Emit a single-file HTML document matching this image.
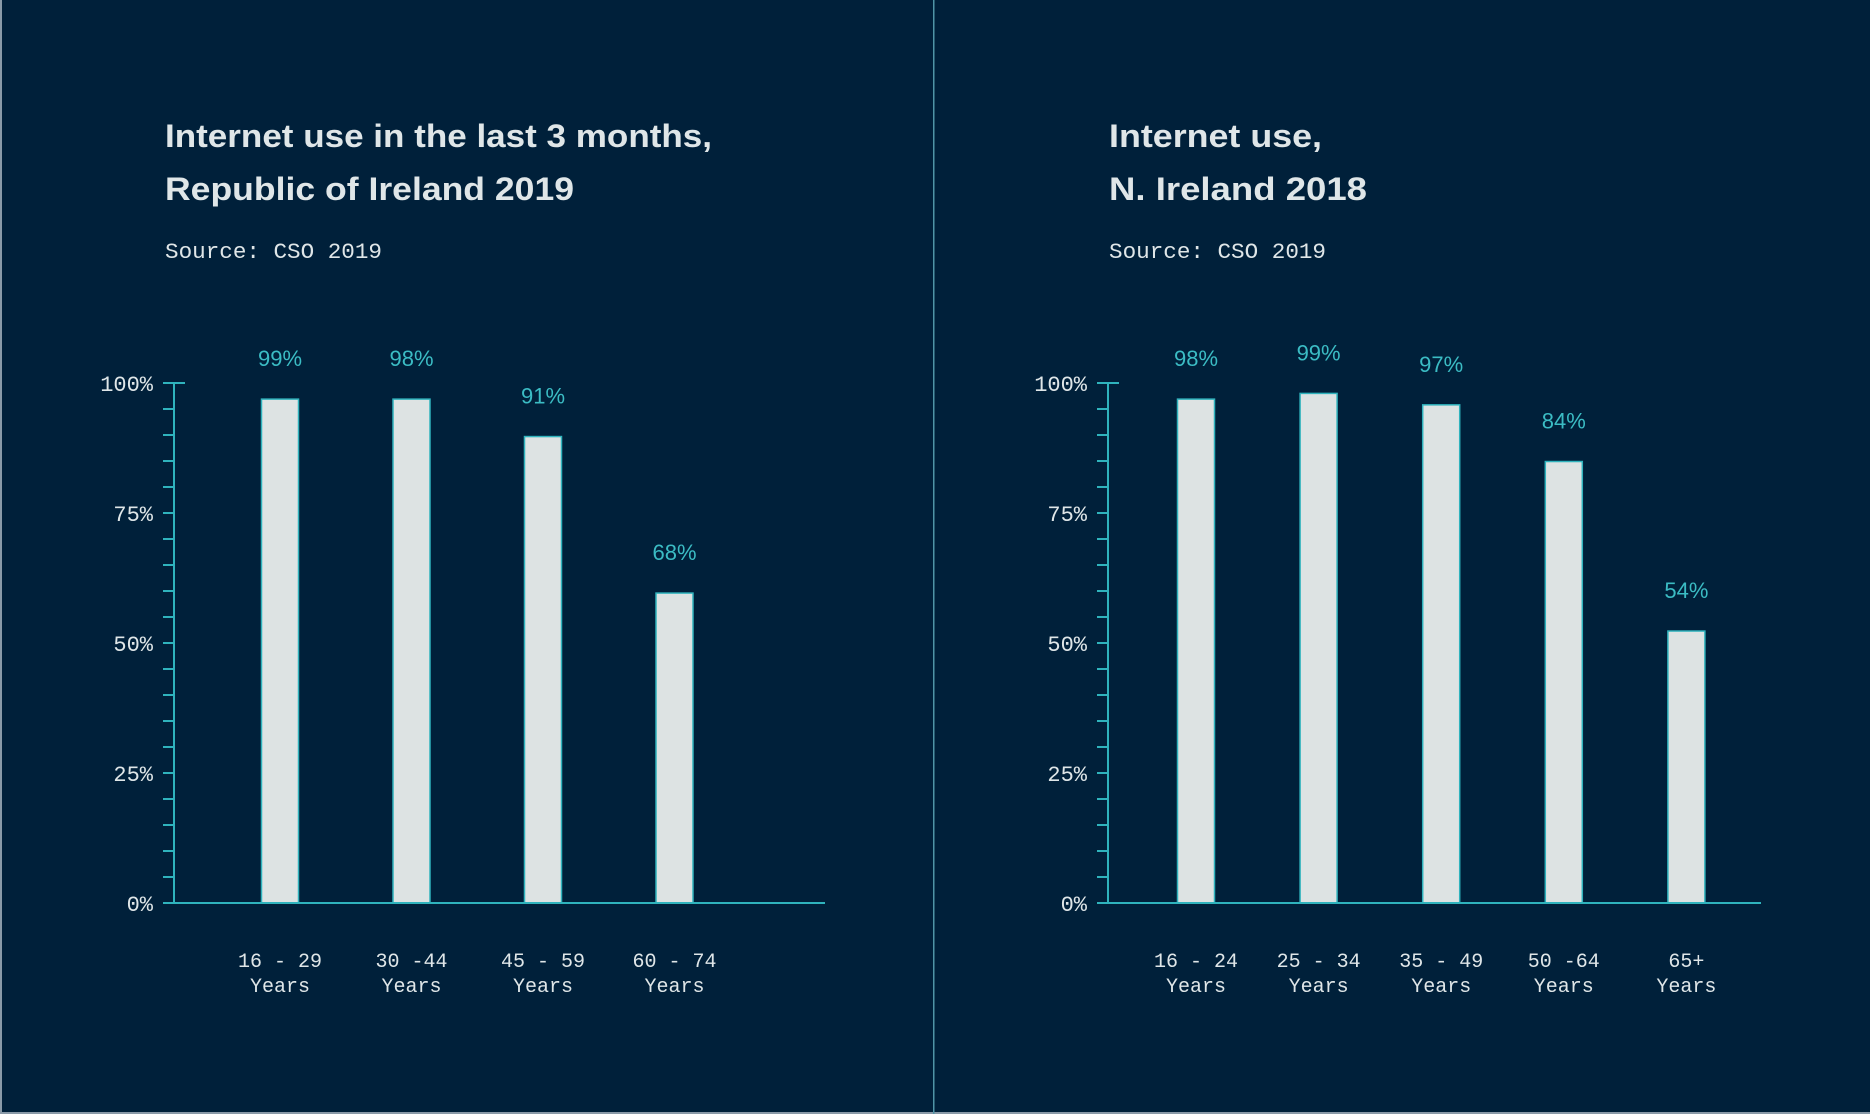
<!DOCTYPE html>
<html><head><meta charset="utf-8"><style>
html,body{margin:0;padding:0;background:#00203a;}
svg{display:block}
</style></head><body>
<svg id="chart" width="1870" height="1114" xmlns="http://www.w3.org/2000/svg">
<rect x="0" y="0" width="1870" height="1114" fill="#00203a"/>
<rect x="0" y="0" width="2" height="1114" fill="#8a9aa8"/>
<rect x="0" y="1112" width="1870" height="2" fill="#8a9aa8"/>
<rect x="933" y="0" width="1.5" height="1114" fill="#4f94a6"/>
<g id="g1"></g>
<g id="g2"></g>
</svg>
<script>
const roiCategories = [["16 - 29","Years"],["30 -44","Years"],["45 - 59","Years"],["60 - 74","Years"]];
const roiValues = [96.9, 96.9, 89.7, 59.6];
const roiLabels = ["99%","98%","91%","68%"];
const niCategories = [["16 - 24","Years"],["25 - 34","Years"],["35 - 49","Years"],["50 -64","Years"],["65+","Years"]];
const niValues = [96.9, 98.0, 95.8, 84.9, 52.3];
const niLabels = ["98%","99%","97%","84%","54%"];
const yTicks = [0, 25, 50, 75, 100];
const yTickLabels = ["0%","25%","50%","75%","100%"];

const NS = "http://www.w3.org/2000/svg";
function mk(parent, tag, attrs, text){
  const e = document.createElementNS(NS, tag);
  for (const k in attrs) e.setAttribute(k, attrs[k]);
  if (text !== undefined) e.textContent = text;
  parent.appendChild(e);
  return e;
}
const TEAL = "#2fb3bd", TXT = "#dfe6e8";

function drawChart(g, cfg, cats, vals, labels){
  const y0 = 903, y1 = 383;
  const yS = v => y0 - (v/100)*(y0-y1);
  const xS = i => cfg.x0 + i*cfg.step;
  // titles
  const t1 = mk(g, "text", {x: cfg.tx, y: 147, fill: TXT, "font-family": "Liberation Sans, sans-serif", "font-weight": "bold", "font-size": 32, textLength: cfg.w1, lengthAdjust: "spacingAndGlyphs"}, cfg.title1);
  
  
  const t2 = mk(g, "text", {x: cfg.tx, y: 200, fill: TXT, "font-family": "Liberation Sans, sans-serif", "font-weight": "bold", "font-size": 32, textLength: cfg.w2, lengthAdjust: "spacingAndGlyphs"}, cfg.title2);
  
  
  const src = mk(g, "text", {x: cfg.tx, y: 258, fill: TXT, "font-family": "Liberation Mono, monospace", "font-size": 22, textLength: 217, lengthAdjust: "spacingAndGlyphs"}, "Source: CSO 2019");
  
  
  // y axis
  const ax = cfg.ax;
  const yl = mk(g, "line", {x1: ax, y1: y1, x2: ax, y2: y0, stroke: TEAL, "stroke-width": 2});
  
  
  for (let v = 0; v <= 100; v += 5){
    const tk = mk(g, "line", {x1: ax-11, y1: yS(v), x2: v===100 ? ax+11 : ax, y2: yS(v), stroke: TEAL, "stroke-width": 2});
    
    
  }
  yTicks.forEach((v, i) => {
    const tl = mk(g, "text", {x: ax-21, y: yS(v)+8, fill: TXT, "font-family": "Liberation Mono, monospace", "font-size": 22, "text-anchor": "end"}, yTickLabels[i]);
    
    
  });
  // bars
  vals.forEach((v, i) => {
    const cx = xS(i);
    const b = mk(g, "rect", {x: cx-18.5, y: yS(v), width: 37, height: y0 - yS(v), fill: "#dde3e3", stroke: TEAL, "stroke-width": 1.5});
    
    
    const l = mk(g, "text", {x: cx, y: yS(v) - 33, fill: "#3bbcc4", "font-family": "Liberation Sans, sans-serif", "font-size": 22, "text-anchor": "middle"}, labels[i]);
    
    
    cats[i].forEach((line, j) => {
      const c = mk(g, "text", {x: cx, y: 967 + j*25, fill: TXT, "font-family": "Liberation Mono, monospace", "font-size": 20, "text-anchor": "middle"}, line);
      
      
    });
  });
  const xl = mk(g, "line", {x1: ax-11, y1: y0, x2: cfg.xend, y2: y0, stroke: TEAL, "stroke-width": 2});
  
  
}
drawChart(document.getElementById("g1"), {tx:165, w1:547, w2:409, title1:"Internet use in the last 3 months,", title2:"Republic of Ireland 2019", ax:174, x0:280, step:131.5, xend:825}, roiCategories, roiValues, roiLabels);
drawChart(document.getElementById("g2"), {tx:1109, w1:213, w2:258, title1:"Internet use,", title2:"N. Ireland 2018", ax:1108, x0:1196, step:122.6, xend:1761}, niCategories, niValues, niLabels);
</script>
</body></html>
